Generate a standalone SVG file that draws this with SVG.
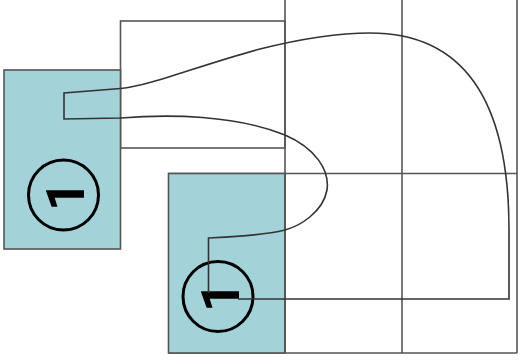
<svg xmlns="http://www.w3.org/2000/svg" width="518" height="364" viewBox="0 0 518 364">
<style>
.teal{fill:#a3d2d8;stroke:#555;stroke-width:1.6}
.box{fill:none;stroke:#555;stroke-width:1.6}
.grid{fill:none;stroke:#555;stroke-width:1.6}
.wire{fill:none;stroke:#333;stroke-width:1.6}
.ring{fill:none;stroke:#000;stroke-width:3}
.num{font-family:Roboto,"Open Sans",sans-serif;font-weight:bold;font-size:53px;fill:#000}
</style>
<rect width="518" height="364" fill="#fff"/>
<g id="upper-box"><rect class="box" x="120.5" y="21" width="164.5" height="127"/></g>
<g id="grid">
<line class="grid" x1="285" y1="0" x2="285" y2="353"/>
<line class="grid" x1="402" y1="0" x2="402" y2="353"/>
<line class="grid" x1="517" y1="0" x2="517" y2="353"/>
<line class="grid" x1="168.5" y1="173.5" x2="517" y2="173.5"/>
<line class="grid" x1="168.5" y1="353" x2="517" y2="353"/>
</g>
<g id="node-left"><rect class="teal" x="4" y="70" width="116.5" height="179"/>
<circle class="ring" cx="63.5" cy="195" r="35"/>
<text class="num" transform="translate(84,211) rotate(-90)">1</text></g>
<g id="node-lower"><rect class="teal" x="168.5" y="173.5" width="116.5" height="179.5"/>
<line class="grid" x1="285" y1="173.5" x2="285" y2="353"/>
<circle class="ring" cx="218" cy="296.5" r="35"/>
<text class="num" transform="translate(239,312) rotate(-90)">1</text></g>
<g id="connectors">
<path class="wire" d="M120.5 88.5 C150 86 200 65 260 49 C300 39 340 33 370 33 C460 33 509 95 509 230 L509 299 L238 299"/>
<path class="wire" d="M120.5 88.5 L64 93 L64 119 L120.5 118 C170 114 235 115 285 135 C315 148 330 170 327 190 C323 212 300 226 285 230 C260 236 230 237 208.5 238 L208.5 293"/>
</g>
</svg>
